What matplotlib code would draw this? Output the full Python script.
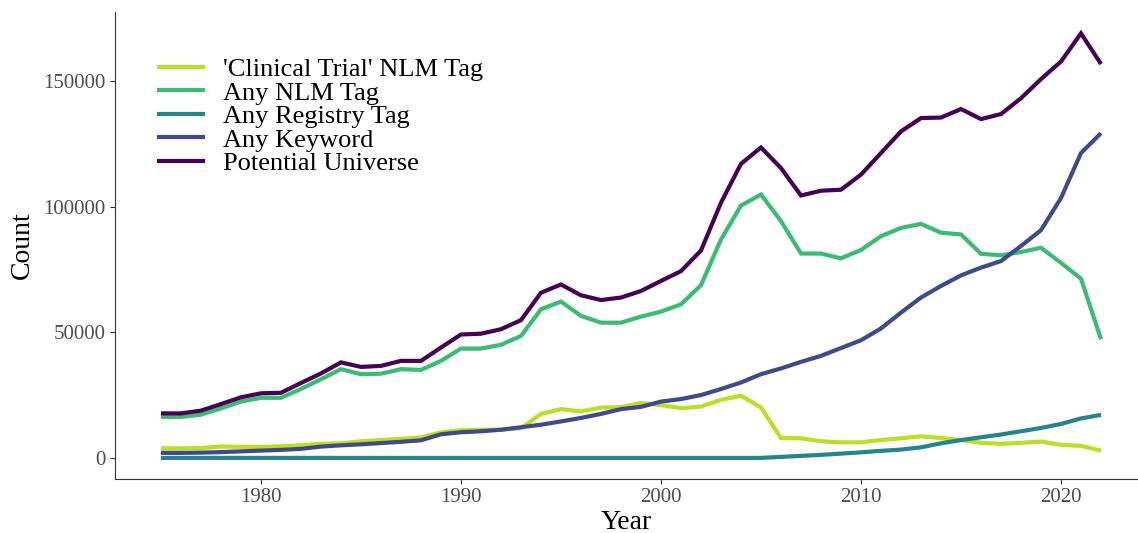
import matplotlib
matplotlib.use("Agg")
from matplotlib import pyplot as plt

years = list(range(1975, 2023))

clinical_trial_tag = [3800, 3800, 3900, 4500, 4400, 4300, 4600, 5000, 5600, 5800,
                      6600, 7100, 7600, 8100, 10200, 11000, 11200, 11200, 11800, 17500,
                      19400, 18500, 20000, 20200, 21800, 21000, 19800, 20400, 23100, 24700,
                      20100, 7900, 7800, 6600, 6200, 6200, 7100, 7800, 8600, 7900,
                      7100, 6000, 5600, 6000, 6500, 5200, 4800, 2900]

any_nlm_tag = [16300, 16300, 17200, 19700, 22400, 23900, 23900, 27400, 31300, 35300,
               33300, 33500, 35300, 35000, 38600, 43500, 43500, 45000, 48500, 59100,
               62200, 56500, 53800, 53800, 56200, 58200, 61100, 68700, 86900, 100400,
               104800, 94200, 81300, 81300, 79400, 82700, 88200, 91500, 93100, 89600,
               88900, 81200, 80600, 81900, 83600, 77600, 71300, 47200]

any_registry_tag = [0, 0, 0, 0, 0, 0, 0, 0, 0, 0,
                    0, 0, 0, 0, 0, 0, 0, 0, 0, 0,
                    0, 0, 0, 0, 0, 0, 0, 0, 0, 0,
                    0, 400, 800, 1200, 1700, 2200, 2800, 3300, 4200, 5800,
                    7100, 8200, 9300, 10600, 11900, 13500, 15700, 17100]

any_keyword = [2000, 2000, 2100, 2300, 2600, 2900, 3200, 3600, 4500, 5000,
               5400, 5900, 6400, 7000, 9400, 10200, 10600, 11200, 12200, 13200,
               14500, 15900, 17500, 19400, 20300, 22400, 23400, 25000, 27400, 30000,
               33300, 35600, 38200, 40600, 43700, 46800, 51500, 57800, 63800, 68400,
               72600, 75700, 78300, 84300, 90600, 103400, 121300, 129200]

potential_universe = [17700, 17700, 18800, 21400, 24100, 25700, 25900, 29800, 33600, 38000,
                      36200, 36600, 38600, 38600, 43900, 49100, 49400, 51200, 54800, 65700,
                      69000, 64700, 62800, 63800, 66400, 70400, 74300, 82500, 101500, 117000,
                      123500, 115300, 104400, 106300, 106700, 112700, 121300, 129900, 135200, 135400,
                      138800, 134800, 136800, 143100, 150700, 157700, 168900, 156700]

series = [
    ("'Clinical Trial' NLM Tag", clinical_trial_tag, "#BBDF27"),
    ("Any NLM Tag", any_nlm_tag, "#3CBB75"),
    ("Any Registry Tag", any_registry_tag, "#25848E"),
    ("Any Keyword", any_keyword, "#3F4A89"),
    ("Potential Universe", potential_universe, "#440154"),
]

plt.rcParams["font.family"] = ["Liberation Serif", "DejaVu Serif"]

fig = plt.figure(figsize=(11.38, 5.33), dpi=100)
axs = fig.add_axes([0.101, 0.1013, 0.899, 0.8762])

for label, values, color in series:
    axs.plot(years, values, color=color, linewidth=3, label=label,
             solid_joinstyle="miter", solid_capstyle="butt")

axs.set_xlim(1972.7, 2023.85)
axs.set_ylim(-8400, 177400)
axs.set_xticks([1980, 1990, 2000, 2010, 2020])
axs.set_yticks([0, 50000, 100000, 150000])
axs.set_yticklabels(["0", "50000", "100000", "150000"])

for side in ("top", "right"):
    axs.spines[side].set_visible(False)
for side in ("left", "bottom"):
    axs.spines[side].set_color("#333333")
    axs.spines[side].set_linewidth(0.8)

axs.tick_params(axis="both", colors="#333333", length=3.5, width=0.8,
                labelsize=15, labelcolor="#4D4D4D", pad=3)

axs.set_xlabel("Year", fontsize=20, labelpad=2)
axs.set_ylabel("Count", fontsize=20, labelpad=6)

axs.legend(loc="upper left", bbox_to_anchor=(0.041, 0.902), frameon=False,
           fontsize=19, handlelength=1.82, handletextpad=0.68,
           labelspacing=0.0, borderaxespad=0, borderpad=0)

plt.savefig("out.png", dpi=100)
plt.close()
